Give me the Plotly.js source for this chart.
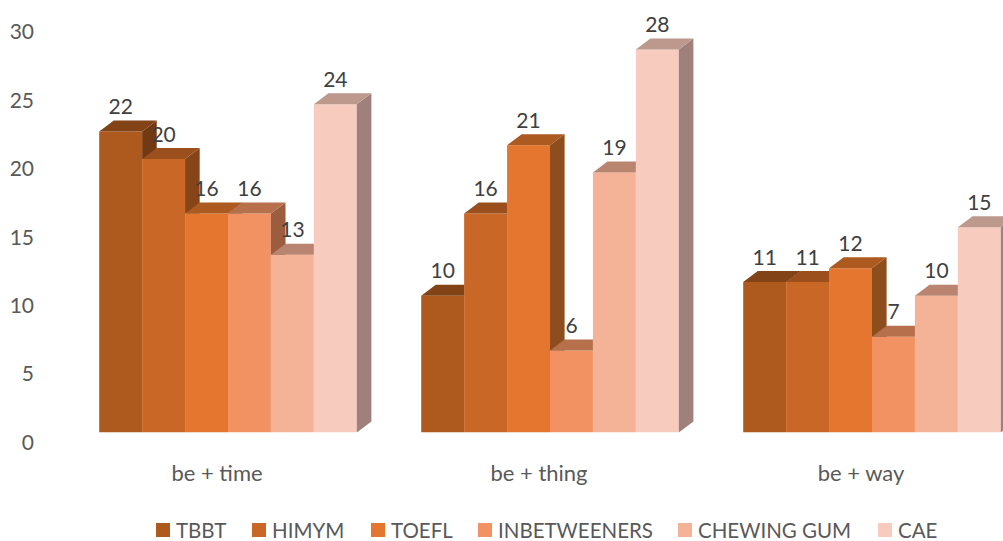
<!DOCTYPE html>
<html>
<head>
<meta charset="utf-8">
<script src="https://cdn.plot.ly/plotly-3.0.1.min.js"></script>
<style>html,body{margin:0;padding:0;background:#fff}#chart{width:1003px;height:541px}</style>
</head>
<body>
<div id="chart"></div>
<script>
// Phrase frequencies per corpus, grouped by phrase pattern.
const categories = ['be + time', 'be + thing', 'be + way'];
const seriesNames = ['TBBT', 'HIMYM', 'TOEFL', 'INBETWEENERS', 'CHEWING GUM', 'CAE'];
const tbbt = [22, 10, 11];
const himym = [20, 16, 11];
const toefl = [16, 21, 12];
const inbetweeners = [16, 6, 7];
const chewingGum = [13, 19, 10];
const cae = [24, 28, 15];
const seriesValues = [tbbt, himym, toefl, inbetweeners, chewingGum, cae];
const yTicks = [0, 5, 10, 15, 20, 25, 30];

// Face colours of each cuboid: front, top, right side.
const frontColors = ['#AE5A1E', '#C86726', '#E4762F', '#F29263', '#F4B296', '#F7CBBE'];
const topColors = ['#824316', '#9A4F1D', '#AD5A20', '#B7704C', '#B98570', '#BC998C'];
const sideColors = ['#713A13', '#854518', '#8D4D1C', '#9C5C3E', '#A0755F', '#A0807A'];

const W = 1003, H = 541;
const plotLeft = 36, plotTop = 1, baseY = 432.5;
const unitPx = 13.68, catPx = 322, firstCatPx = 228;
const bargap = 0.2;
const barW = (1 - bargap) / seriesNames.length;
// Extrusion of the cuboids, expressed in axis units.
const depthX = 14.6 / catPx, depthY = 11 / unitPx;
const labelLift = 1 / unitPx;

const xPos = categories.map((_, i) => i);
const barCenter = (cat, s) => cat + (s - (seriesNames.length - 1) / 2) * barW;

// Half-plane clip of a polygon against axis = val, keeping the chosen side.
function clip(poly, axis, val, keepAbove) {
  const inside = p => keepAbove ? p[axis] >= val : p[axis] <= val;
  const out = [];
  poly.forEach((p, i) => {
    const q = poly[(i + 1) % poly.length];
    if (inside(p)) out.push(p);
    if (inside(p) !== inside(q)) {
      const t = (val - p[axis]) / (q[axis] - p[axis]);
      out.push([p[0] + t * (q[0] - p[0]), p[1] + t * (q[1] - p[1])]);
    }
  });
  return out;
}

function polygonsToXY(polys) {
  const x = [], y = [];
  polys.filter(p => p.length > 2).forEach(p => {
    p.concat([p[0]]).forEach(v => { x.push(v[0]); y.push(v[1]); });
    x.push(null); y.push(null);
  });
  return {x, y};
}

function faceTrace(polys, color) {
  const xy = polygonsToXY(polys);
  return {
    type: 'scatter', mode: 'lines', x: xy.x, y: xy.y, fill: 'toself',
    fillcolor: color, line: {width: 0, color: color}, hoverinfo: 'skip', showlegend: false
  };
}

// Front faces are plain grouped bars.
const traces = seriesNames.map((name, s) => ({
  type: 'bar', name: name, x: xPos, y: seriesValues[s],
  marker: {color: frontColors[s], line: {width: 0}}, showlegend: false
}));

// Side and top faces are trimmed where the neighbouring bar's front hides them.
seriesNames.forEach((name, s) => {
  const sides = [], tops = [];
  xPos.forEach(c => {
    const v = seriesValues[s][c];
    const next = s + 1 < seriesNames.length ? seriesValues[s + 1][c] : 0;
    const xl = barCenter(c, s) - barW / 2, xr = xl + barW;
    const side = [[xr, 0], [xr + depthX, depthY], [xr + depthX, v + depthY], [xr, v]];
    const top = [[xl, v], [xr, v], [xr + depthX, v + depthY], [xl + depthX, v + depthY]];
    sides.push(clip(side, 1, next, true));
    tops.push(clip(top, 0, xr, false));
    tops.push(clip(clip(top, 0, xr, true), 1, next, true));
  });
  traces.push(faceTrace(sides, sideColors[s]));
  traces.push(faceTrace(tops, topColors[s]));
});

// Value labels sit above the back edge of each top face.
const labelX = [], labelY = [], labelText = [];
seriesNames.forEach((name, s) => xPos.forEach(c => {
  labelX.push(barCenter(c, s));
  labelY.push(seriesValues[s][c] + depthY + labelLift);
  labelText.push(String(seriesValues[s][c]));
}));
traces.push({
  type: 'scatter', mode: 'text', x: labelX, y: labelY, text: labelText,
  textposition: 'top center', cliponaxis: false, hoverinfo: 'skip', showlegend: false,
  textfont: {family: 'Lato, sans-serif', size: 21, color: '#404040'}
});

// Hand-placed legend row: swatch left edge and label start of each entry.
const legendSwatchX = [156, 252, 371, 478, 678, 878];
const legendY = 530, swatch = 14, legendGap = 5;
const shapes = seriesNames.map((_, s) => ({
  type: 'rect', xref: 'paper', yref: 'paper', layer: 'above',
  x0: legendSwatchX[s] / W, x1: (legendSwatchX[s] + swatch) / W,
  y0: 1 - (legendY + swatch / 2) / H, y1: 1 - (legendY - swatch / 2) / H,
  fillcolor: frontColors[s], line: {width: 0}
}));
const annotations = seriesNames.map((name, s) => ({
  xref: 'paper', yref: 'paper', showarrow: false, xanchor: 'left', yanchor: 'middle',
  x: (legendSwatchX[s] + swatch + legendGap) / W, y: 1 - legendY / H, text: name,
  xshift: -1, font: {family: 'Lato, sans-serif', size: 20.5, color: '#595959'}
}));

const layout = {
  width: W, height: H, margin: {l: 0, r: 0, t: 0, b: 0},
  paper_bgcolor: '#fff', plot_bgcolor: '#fff', showlegend: false,
  barmode: 'group', bargap: bargap, bargroupgap: 0,
  xaxis: {
    domain: [plotLeft / W, 1],
    range: [(plotLeft - firstCatPx) / catPx, (W - firstCatPx) / catPx],
    tickmode: 'array', tickvals: xPos, ticktext: categories,
    showgrid: false, zeroline: false, showline: false, ticks: '',
    ticklabelshift: -11, ticklabelstandoff: 25,
    tickfont: {family: 'Lato, sans-serif', size: 22, color: '#595959'}
  },
  yaxis: {
    domain: [1 - baseY / H, 1 - plotTop / H],
    range: [0, (baseY - plotTop) / unitPx],
    tickmode: 'array', tickvals: yTicks,
    showgrid: false, zeroline: false, showline: false, ticks: '',
    ticklabelshift: 10, ticklabelstandoff: 1,
    tickfont: {family: 'Lato, sans-serif', size: 21, color: '#595959'}
  },
  shapes: shapes, annotations: annotations
};

Plotly.newPlot('chart', traces, layout, {displayModeBar: false, staticPlot: true});
</script>
</body>
</html>
